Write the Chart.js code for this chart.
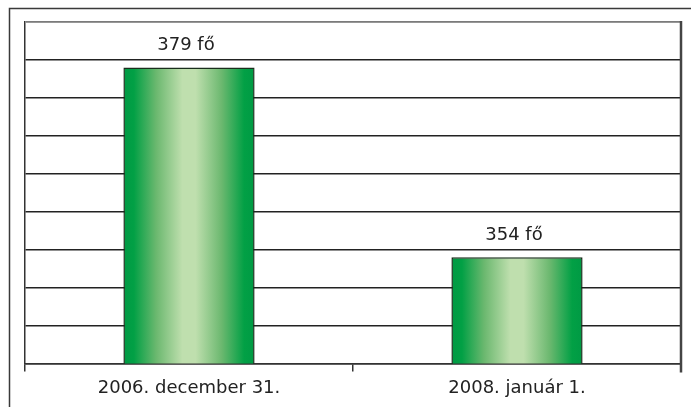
<!DOCTYPE html>
<html>
<head>
<meta charset="utf-8">
<script src="https://cdn.jsdelivr.net/npm/chart.js@4.4.1/dist/chart.umd.min.js"></script>
<style>
html,body{margin:0;padding:0;background:#fff;}
#wrap{width:691px;height:407px;position:relative;}
</style>
</head>
<body>
<div id="wrap"><canvas id="c" width="691" height="407"></canvas></div>
<script>
const categories = ["2006. december 31.", "2008. január 1."];
const values = [379, 354];
const valueLabels = ["379 fő", "354 fő"];
const yMin = 340, yMax = 385, yStep = 5;

const FONT = "'DejaVu Sans', sans-serif";

function barGradient(ctx) {
  const chart = ctx.chart;
  const xs = chart.scales.x;
  if (!xs || !chart.chartArea) return '#009a44';
  const center = xs.getPixelForValue(ctx.dataIndex);
  const half = (xs.width / categories.length) * 0.4 / 2;
  const left = center - half, right = center + half;
  const g = chart.ctx.createLinearGradient(left, 0, right, 0);
  g.addColorStop(0.00, '#009a44');
  g.addColorStop(0.08, '#02a045');
  g.addColorStop(0.25, '#6bb86f');
  g.addColorStop(0.45, '#bfdfae');
  g.addColorStop(0.55, '#bfdfae');
  g.addColorStop(0.75, '#6bb86f');
  g.addColorStop(0.92, '#02a045');
  g.addColorStop(1.00, '#009a44');
  return g;
}

const decor = {
  id: 'decor',
  afterDraw(chart) {
    const c = chart.ctx, a = chart.chartArea;
    c.save();
    // outer frame
    c.strokeStyle = '#3a3a3a';
    c.lineWidth = 1.5;
    c.beginPath();
    c.moveTo(9.5, 407); c.lineTo(9.5, 8.5); c.lineTo(691, 8.5);
    c.stroke();
    // top of plot area
    c.strokeStyle = '#9a9a9a';
    c.lineWidth = 1.5;
    c.beginPath();
    c.moveTo(a.left, a.top); c.lineTo(a.right, a.top);
    c.stroke();
    // right border of plot area
    c.strokeStyle = '#444';
    c.lineWidth = 2.5;
    c.beginPath();
    c.moveTo(a.right, a.top - 1); c.lineTo(a.right, a.bottom + 9);
    c.stroke();
    // value labels
    c.fillStyle = '#222';
    c.font = "18px " + FONT;
    c.textAlign = 'center';
    c.textBaseline = 'bottom';
    const meta = chart.getDatasetMeta(0);
    meta.data.forEach((el, i) => {
      c.fillText(valueLabels[i], el.x - 3, el.y - 13);
    });
    c.restore();
  }
};

new Chart(document.getElementById('c'), {
  type: 'bar',
  data: {
    labels: categories,
    datasets: [{
      data: values,
      backgroundColor: barGradient,
      borderColor: '#1a2e1c',
      borderWidth: 1.5,
      borderSkipped: false,
      barPercentage: 0.4,
      categoryPercentage: 1.0
    }]
  },
  options: {
    responsive: false,
    animation: false,
    events: [],
    layout: { padding: { left: 25, right: 10, top: 22, bottom: 2 } },
    plugins: { legend: { display: false }, tooltip: { enabled: false } },
    scales: {
      x: {
        grid: {
          offset: true,
          drawOnChartArea: false,
          drawTicks: true,
          tickLength: 8,
          color: '#333',
          lineWidth: 1.5
        },
        border: { display: true, color: '#333', width: 1.5 },
        ticks: { color: '#222', font: { family: FONT, size: 18 }, padding: 6, maxRotation: 0 }
      },
      y: {
        min: yMin, max: yMax,
        ticks: { display: false, stepSize: yStep },
        grid: { color: '#222', lineWidth: 1.5, drawTicks: false },
        border: { display: true, color: '#333', width: 1.5 }
      }
    }
  },
  plugins: [decor]
});
</script>
</body>
</html>
